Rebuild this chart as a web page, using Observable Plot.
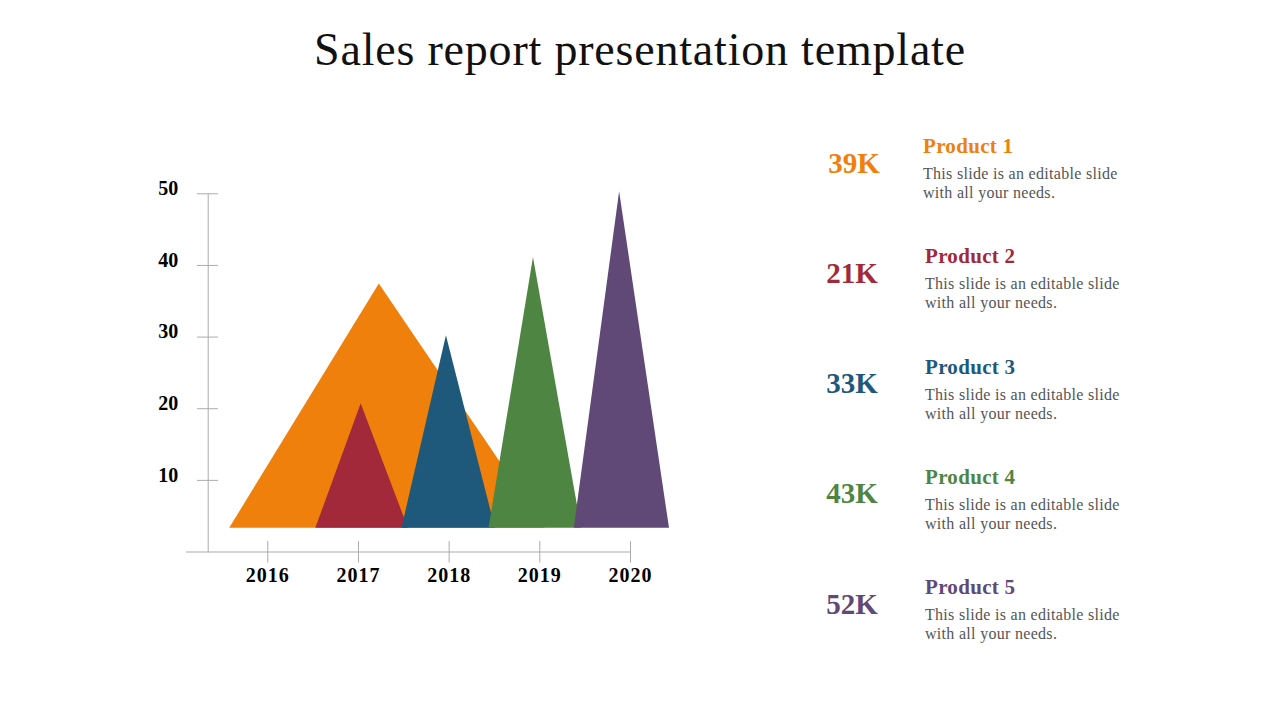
<!DOCTYPE html>
<html>
<head>
<meta charset="utf-8">
<script src="https://cdn.jsdelivr.net/npm/d3@7"></script>
<script src="https://cdn.jsdelivr.net/npm/@observablehq/plot@0.6"></script>
<style>
  html, body { margin: 0; padding: 0; background: #fff; }
  body { width: 1280px; height: 720px; position: relative; overflow: hidden; font-family: "Liberation Serif", "DejaVu Serif", serif; }
  #title { position: absolute; left: 0; width: 1280px; top: 26px; text-align: center; font-size: 46px; letter-spacing: 0.8px; line-height: 48px; color: #111; }
  #chart { position: absolute; left: 0; top: 0; }
  #chart g[aria-label="x-axis tick label"] { letter-spacing: 1px; }
  .num { position: absolute; transform: translate(-50%, -50%); font-weight: bold; font-size: 29px; line-height: 1; }
  .head { position: absolute; transform: translateY(-50%); font-weight: bold; font-size: 21px; letter-spacing: 0.3px; line-height: 1; white-space: nowrap; }
  .desc { position: absolute; font-size: 16px; letter-spacing: 0.3px; line-height: 19px; color: #555; white-space: nowrap; }
</style>
</head>
<body>
<div id="title">Sales report presentation template</div>
<div id="chart"></div>
<div id="panel"></div>
<script>
// ---- data ----
const products = ["Product 1", "Product 2", "Product 3", "Product 4", "Product 5"];
const totals = ["39K", "21K", "33K", "43K", "52K"];
const colors = ["#EF800C", "#A1293A", "#1E597B", "#4F8543", "#614977"];
const peaks = [37.4, 20.7, 30.2, 41.1, 50.3];
const baseValue = 3.3;
const leftX = [2015.58, 2016.53, 2017.48, 2018.44, 2019.38];
const peakX = [2017.23, 2017.03, 2017.97, 2018.93, 2019.88];
const rightX = [2019.06, 2017.55, 2018.51, 2019.46, 2020.43];
const years = [2016, 2017, 2018, 2019, 2020];
const yTicks = [10, 20, 30, 40, 50];
const description = ["This slide is an editable slide", "with all your needs."];

// polygon rows for the triangles
const rows = [];
products.forEach((p, i) => {
  rows.push({product: p, x: leftX[i], y: baseValue});
  rows.push({product: p, x: peakX[i], y: peaks[i]});
  rows.push({product: p, x: rightX[i], y: baseValue});
});

const axisColor = "#ABABAB";
const font = "'Liberation Serif', 'DejaVu Serif', serif";

const chart = Plot.plot({
  width: 760,
  height: 620,
  marginLeft: 207.7,
  marginRight: 130,
  marginTop: 193.3,
  marginBottom: 68.5,
  style: {fontFamily: font, background: "transparent", overflow: "visible"},
  x: {domain: [2015.343, 2020], axis: null},
  y: {domain: [0, 50], axis: null},
  color: {domain: products, range: colors},
  marks: [
    Plot.frame({anchor: "left", stroke: axisColor}),
    Plot.ruleY([0], {stroke: axisColor, insetLeft: -21.7}),
    Plot.axisY({ticks: yTicks, tickSize: 21, dx: 10.3, text: null, stroke: axisColor, label: null}),
    Plot.axisY({ticks: yTicks, tickSize: 0, tickPadding: 30, dy: -5, fontSize: 20, fontWeight: "bold", fill: "#000", label: null}),
    Plot.axisX({ticks: years, tickSize: 21.5, dy: -10.5, text: null, stroke: axisColor, label: null}),
    Plot.axisX({ticks: years, tickSize: 0, tickPadding: 24, tickFormat: d => String(d), lineAnchor: "middle", fontSize: 20, fontWeight: "bold", fill: "#000", label: null}),
    Plot.areaY(rows, {x: "x", y1: baseValue, y2: "y", z: "product", fill: "product", fillOpacity: 1})
  ]
});
document.getElementById("chart").appendChild(chart);

// right-hand panel
const panel = document.getElementById("panel");
products.forEach((p, i) => {
  const top = 146 + i * 110.3;
  const numX = i === 0 ? 854 : 852;
  const headX = i === 0 ? 923 : 925;
  const num = document.createElement("div");
  num.className = "num";
  num.style.left = numX + "px";
  num.style.top = (top + 16.5) + "px";
  num.style.color = colors[i];
  num.textContent = totals[i];
  panel.appendChild(num);
  const head = document.createElement("div");
  head.className = "head";
  head.style.left = headX + "px";
  head.style.top = top + "px";
  head.style.color = colors[i];
  head.textContent = p;
  panel.appendChild(head);
  const desc = document.createElement("div");
  desc.className = "desc";
  desc.style.left = headX + "px";
  desc.style.top = (top + 18) + "px";
  desc.innerHTML = description.join("<br>");
  panel.appendChild(desc);
});
</script>
</body>
</html>
